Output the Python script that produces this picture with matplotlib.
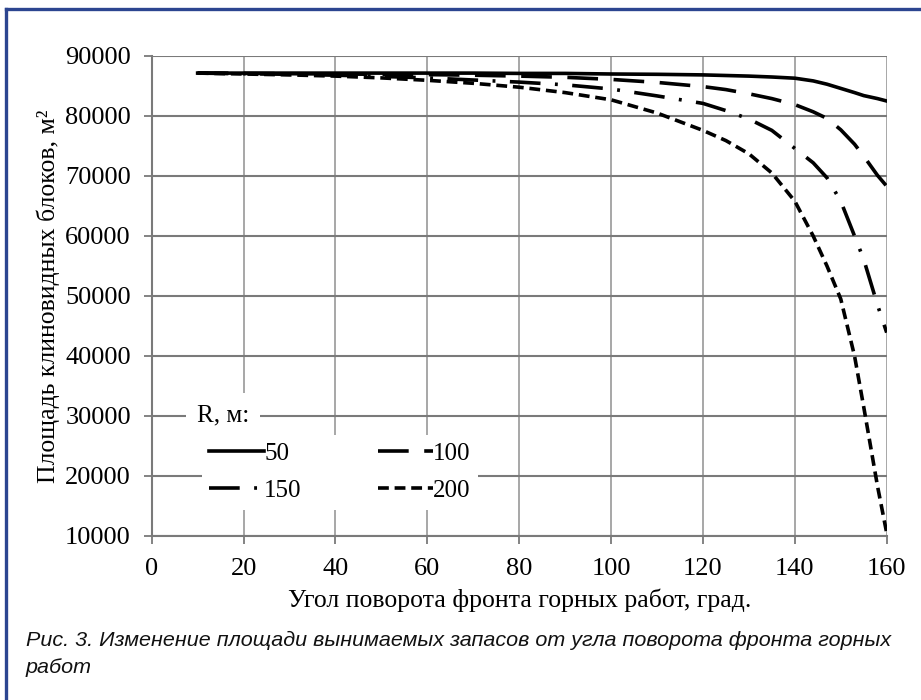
import matplotlib.pyplot as plt
from matplotlib.lines import Line2D

# angle of the mining front, degrees
angle = [10, 20, 30, 40, 50, 60, 70, 80, 90, 100, 110, 120, 125, 130,
         135, 140, 144, 147, 150, 153, 155, 158, 160]

# area of wedge blocks, m2, for each radius R
area_50 = [87150, 87150, 87150, 87150, 87150, 87150, 87150, 87100, 87100, 87000,
           86950, 86850, 86750, 86650, 86500, 86300, 85850, 85300, 84600, 83900,
           83400, 82900, 82500]
area_100 = [87150, 87100, 87050, 87000, 86950, 86900, 86800, 86650, 86450, 86100,
            85600, 84900, 84400, 83700, 82900, 81900, 80700, 79600, 77700, 75300,
            73300, 70100, 68300]
area_150 = [87150, 87050, 86950, 86800, 86600, 86350, 86000, 85650, 85200, 84500,
            83350, 82100, 80900, 79500, 77600, 74600, 72200, 69700, 65800, 60000,
            56100, 48500, 43900]
area_200 = [87150, 87000, 86850, 86650, 86350, 85950, 85450, 84800, 83900, 82700,
            80500, 77600, 75900, 73700, 70500, 65800, 60000, 55000, 49500, 40000,
            31500, 18300, 10500]

labels = ["50", "100", "150", "200"]
styles = ["-", (0, (8.5, 4.3)), (0, (8.5, 4.0, 0.8, 4.0)), (0, (3.0, 1.6))]

serif = ["Liberation Serif", "DejaVu Serif"]
plt.rcParams["font.family"] = serif

W, H = 921, 700
fig = plt.figure(figsize=(W / 100, H / 100), dpi=100)
ax = fig.add_axes([151.7 / W, 1 - 536 / H, (886.7 - 151.7) / W, (536 - 56) / H])

lines = []
for vals, lab, ls in zip([area_50, area_100, area_150, area_200], labels, styles):
    ln, = ax.plot(angle, vals, color="black", lw=2.6, linestyle=ls, label=lab,
                  dash_capstyle="butt", zorder=3)
    lines.append(ln)

ax.set_xlim(0, 160)
ax.set_ylim(10000, 90000)
ax.set_xticks(range(0, 161, 20))
ax.set_yticks(range(10000, 90001, 10000))
ax.grid(True, axis="y", color="#7a7a7a", lw=1.5)
ax.grid(True, axis="x", color="#a0a0a0", lw=1.3)
ax.set_axisbelow(True)
for side in ["top", "right"]:
    ax.spines[side].set_visible(False)
for side in ["left", "bottom"]:
    ax.spines[side].set_color("#7a7a7a")
    ax.spines[side].set_linewidth(1.5)
ax.tick_params(axis="y", labelsize=19, length=6, width=1.3, color="#7a7a7a", pad=9)
ax.tick_params(axis="x", labelsize=19, length=6, width=1.3, color="#7a7a7a", pad=10)

ax.set_xlabel("Угол поворота фронта горных работ, град.", fontsize=18.5, labelpad=6)
ax.set_ylabel("Площадь клиновидных блоков, м²", fontsize=18.5, labelpad=4)

# row-wise order as in the original: 50, 100 / 150, 200
order = [0, 2, 1, 3]
leg = ax.legend([lines[i] for i in order], [labels[i] for i in order],
                ncol=2, loc="upper left", bbox_to_anchor=(189 / W, 1 - 422 / H),
                bbox_transform=fig.transFigure, fontsize=18, handlelength=2.2,
                handletextpad=0.0, columnspacing=3.05, labelspacing=0.6,
                frameon=True, framealpha=1, facecolor="white", edgecolor="none",
                fancybox=False, borderpad=0.3)
leg.set_zorder(5)
fig.text(197 / W, 1 - 415 / H, "R, м:", fontsize=18, va="center", ha="left",
         bbox=dict(facecolor="white", edgecolor="none", pad=8), zorder=6)

# caption under the chart, sized to span the same width as the original
cap = fig.text(26 / W, 1 - 654 / H,
               "Рис. 3. Изменение площади вынимаемых запасов от угла поворота фронта горных\nработ",
               fontsize=17, style="italic", va="center", ha="left", linespacing=1.45,
               family=["Liberation Sans Narrow", "Liberation Sans", "DejaVu Sans"],
               stretch="condensed", color="#111111")
fig.canvas.draw()
cap_w = cap.get_window_extent().width
cap.set_fontsize(17 * 864 / cap_w)
cap.set_linespacing(1.45 * 17 / cap.get_fontsize())

# blue frame at left and top
frame_color = "#2c4590"
fig.add_artist(Line2D([5.5 / W, 5.5 / W], [0, 1 - 9 / H], color=frame_color, lw=2.4,
                      transform=fig.transFigure))
fig.add_artist(Line2D([5.5 / W, 1], [1 - 9 / H, 1 - 9 / H], color=frame_color, lw=2.4,
                      transform=fig.transFigure))

fig.savefig("out.png", dpi=100)
